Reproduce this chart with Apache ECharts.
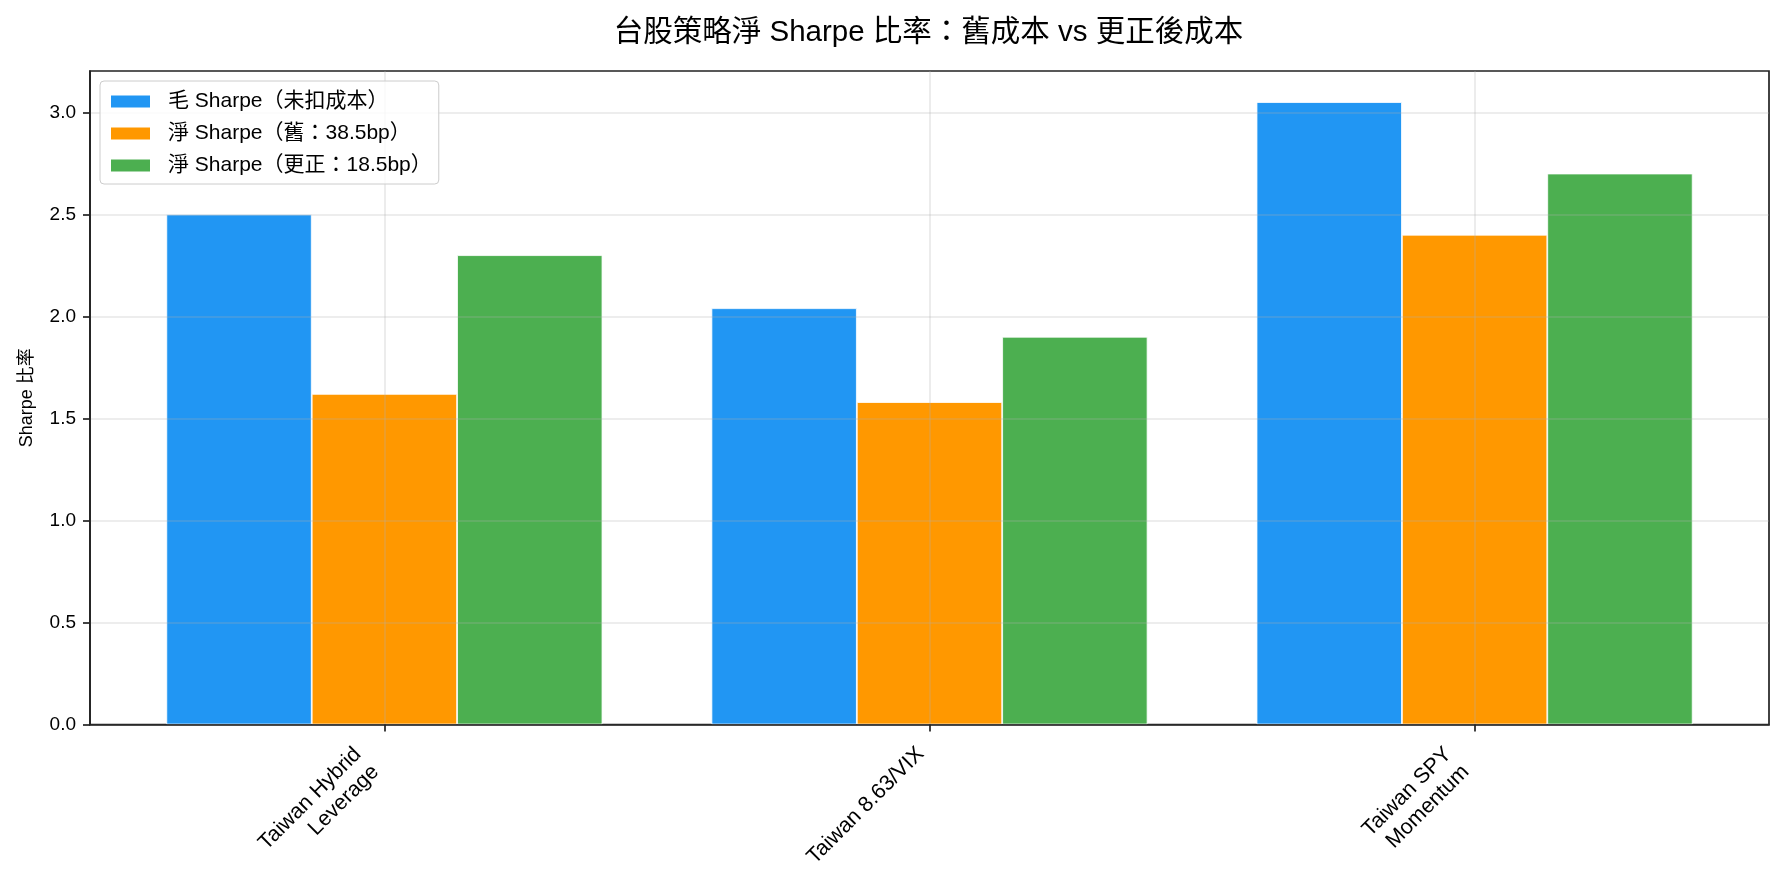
<!DOCTYPE html>
<html>
<head>
<meta charset="utf-8">
<script src="https://cdn.jsdelivr.net/npm/echarts@6/dist/echarts.min.js"></script>
<style>
html,body{margin:0;padding:0;background:#fff;}
#chart{width:1784px;height:882px;}
</style>
</head>
<body>
<div id="chart"></div>
<script>
const titleText = '台股策略淨 Sharpe 比率：舊成本 vs 更正後成本';
const yAxisName = 'Sharpe 比率';
const categories = ['Taiwan Hybrid\nLeverage', 'Taiwan 8.63/VIX', 'Taiwan SPY\nMomentum'];
const seriesNames = ['毛 Sharpe（未扣成本）', '淨 Sharpe（舊：38.5bp）', '淨 Sharpe（更正：18.5bp）'];
const grossSharpe = [2.50, 2.04, 3.05];
const netOldSharpe = [1.62, 1.58, 2.40];
const netNewSharpe = [2.30, 1.90, 2.70];
const yTicks = [0, 0.5, 1.0, 1.5, 2.0, 2.5, 3.0];
const yMax = 3.2025;

const colors = ['#2196F3', '#FF9800', '#4CAF50'];
const FONT = "'Liberation Sans', 'Noto Sans CJK TC', sans-serif";
const GRIDC = 'rgba(176,176,176,0.3)';
const SPINE = '#222222';

const chart = echarts.init(document.getElementById('chart'), null, {renderer: 'canvas'});
const dataSets = [grossSharpe, netOldSharpe, netNewSharpe];

const xLabelStyle = {
  show: true, interval: 0, rotate: 45,
  align: 'right', verticalAlign: 'bottom',
  fontFamily: FONT, fontSize: 21.5, lineHeight: 25, color: '#000'
};

const option = {
  backgroundColor: '#ffffff',
  animation: false,
  textStyle: {fontFamily: FONT},
  title: {
    text: titleText,
    left: 923.5,
    textAlign: 'center',
    top: 13,
    textStyle: {fontFamily: FONT, fontSize: 29.5, fontWeight: 'normal', color: '#000'}
  },
  legend: {
    orient: 'vertical',
    left: 100,
    top: 81,
    data: seriesNames,
    icon: 'rect',
    itemWidth: 41,
    itemHeight: 14,
    itemGap: 9,
    padding: [9, 7, 7, 9],
    backgroundColor: 'rgba(255,255,255,0.8)',
    borderColor: '#cccccc',
    borderWidth: 1,
    borderRadius: 4,
    textStyle: {fontFamily: FONT, fontSize: 21, color: '#000', lineHeight: 23, padding: [0, 0, 0, 12]},
    z: 10
  },
  grid: [
    {left: 90, top: 71, width: 1679, height: 653.5, show: true, borderColor: SPINE, borderWidth: 1.7, backgroundColor: 'transparent'},
    {left: 384.4, top: 71, width: 1090.2, height: 653.5, show: false},
    {left: 384.4, top: 71, width: 1090.2, height: 653.5, show: false}
  ],
  xAxis: [
    {
      gridIndex: 0, type: 'value', min: 0, max: 1, position: 'bottom', z: 3,
      axisLine: {show: true, lineStyle: {color: SPINE, width: 1.7}},
      axisTick: {show: false}, axisLabel: {show: false}, splitLine: {show: false}
    },
    {
      gridIndex: 1, type: 'category', data: categories, boundaryGap: false, position: 'bottom', z: 3,
      axisLine: {show: false},
      axisTick: {show: true, length: 7, inside: false, lineStyle: {color: SPINE, width: 1.7}},
      axisLabel: Object.assign({}, xLabelStyle, {
        margin: 35,
        formatter: v => (v.indexOf('\n') >= 0 ? '' : v)
      }),
      splitLine: {show: true, lineStyle: {color: GRIDC, width: 1.6}}
    },
    {
      gridIndex: 2, type: 'category', data: categories, boundaryGap: false, position: 'bottom', z: 3,
      axisLine: {show: false},
      axisTick: {show: false},
      axisLabel: Object.assign({}, xLabelStyle, {
        margin: 53,
        formatter: v => (v.indexOf('\n') >= 0 ? v : '')
      }),
      splitLine: {show: false}
    }
  ],
  yAxis: [
    {
      gridIndex: 0, type: 'value', min: 0, max: yMax, interval: 0.5, z: 3,
      name: yAxisName, nameLocation: 'middle', nameGap: 54, nameRotate: 90,
      nameTextStyle: {fontFamily: FONT, fontSize: 18, color: '#000'},
      axisLine: {show: true, lineStyle: {color: SPINE, width: 1.7}},
      axisTick: {show: true, length: 7, inside: false, customValues: yTicks, lineStyle: {color: SPINE, width: 1.7}},
      axisLabel: {
        show: true, margin: 14, customValues: yTicks,
        formatter: v => Number(v).toFixed(1),
        fontFamily: FONT, fontSize: 19, color: '#000'
      },
      splitLine: {show: true, lineStyle: {color: GRIDC, width: 1.6}}
    },
    {
      gridIndex: 1, type: 'value', min: 0, max: yMax, show: false,
      splitLine: {show: false}
    },
    {
      gridIndex: 2, type: 'value', min: 0, max: yMax, show: false,
      splitLine: {show: false}
    }
  ],
  series: seriesNames.map((name, i) => ({
    name: name,
    type: 'bar',
    xAxisIndex: 1,
    yAxisIndex: 1,
    data: dataSets[i],
    barGap: '0%',
    barCategoryGap: '20%',
    clip: false,
    z: 2,
    itemStyle: {color: colors[i], borderColor: '#ffffff', borderWidth: 0.8}
  }))
};
chart.setOption(option);
</script>
</body>
</html>
